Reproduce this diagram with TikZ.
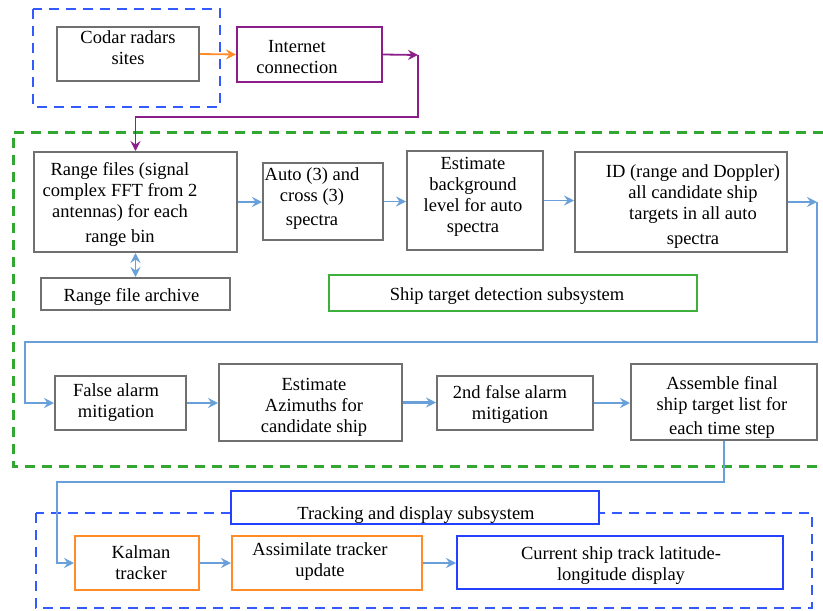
\documentclass[tikz,border=0pt]{standalone}
\usepackage{fontspec}
\setmainfont{Liberation Serif}
\usetikzlibrary{arrows.meta,calc}
\definecolor{boxgray}{RGB}{112,112,112}
\definecolor{cpurple}{RGB}{140,30,140}
\definecolor{corange}{RGB}{255,140,40}
\definecolor{cblue}{RGB}{105,160,218}
\definecolor{cgreen}{RGB}{50,168,50}
\definecolor{cgreenbox}{RGB}{60,175,60}
\definecolor{cdblue}{RGB}{50,90,255}
\definecolor{csblue}{RGB}{35,65,255}
\tikzset{
  bx/.style={fill=white, inner sep=0pt, line width=2pt},
  graybox/.style={bx, draw=boxgray},
  purplebox/.style={bx, draw=cpurple},
  orangebox/.style={bx, draw=corange},
  greenbox/.style={bx, draw=cgreenbox},
  bluebox/.style={bx, draw=csblue},
  txt/.style={align=center, inner sep=0pt, font=\fontsize{18.5}{21}\selectfont},
  tip/.style={-{Stealth[length=10pt,width=10pt,inset=3.5pt]}},
  conn/.style={draw=cblue, line width=1.8pt},
  conn2/.style={draw=cblue, line width=2.6pt},
  gdash/.style={draw=cgreen, line width=3pt, dash pattern=on 10pt off 7pt},
  bdash/.style={draw=cdblue, line width=2.5pt, dash pattern=on 10pt off 7pt},
}
\begin{document}
\begin{tikzpicture}[x=1pt,y=-1pt]
\useasboundingbox[fill=white] (0,0) rectangle (823,611);

% group frames
\draw[bdash] (33,9) rectangle (220,107);
\draw[gdash] (823,132) -- (13,132) -- (13,466) -- (823,466);
\draw[bdash] (36,513) rectangle (812,608);

% coordinates for connector corners
\coordinate (p1) at (418,55);
\coordinate (p2) at (135.5,117);
\coordinate (q1) at (817,202);
\coordinate (q2) at (25,342);
\coordinate (r1) at (724,482);
\coordinate (r2) at (57,482);

% connectors (below boxes)
\draw[cpurple, line width=1.8pt] (p1) -- (p1 |- p2) -- (p2) -- (135.5,150);
\draw[conn] (q1) -- (q1 |- q2) -- (q2) -- (25,403) -- (50,403);
\draw[conn] (724,440) -- (r1) -- (r2) -- (57,563) -- (70,563);

% boxes
\node[graybox, minimum width=142pt, minimum height=54pt] (codar) at (128,54) {};
\node[purplebox, minimum width=145pt, minimum height=55pt] (inet) at (309.5,54.5) {};
\node[graybox, minimum width=203pt, minimum height=100pt] (rf) at (135.5,202) {};
\node[graybox, minimum width=120pt, minimum height=77pt] (auto) at (323,201.5) {};
\node[graybox, minimum width=136pt, minimum height=99pt] (est) at (475,200.5) {};
\node[graybox, minimum width=212pt, minimum height=100pt] (id) at (681,202) {};
\node[graybox, minimum width=189pt, minimum height=32pt] (arch) at (135.5,294) {};
\node[greenbox, minimum width=368pt, minimum height=36pt] (shiptitle) at (513,293) {};
\node[graybox, minimum width=131pt, minimum height=54pt] (fa) at (120.5,403) {};
\node[graybox, minimum width=183pt, minimum height=77pt] (ea) at (310.5,402.5) {};
\node[graybox, minimum width=156pt, minimum height=54pt] (fa2) at (515,403) {};
\node[graybox, minimum width=186pt, minimum height=76pt] (ass) at (724,402) {};
\node[bluebox, minimum width=368pt, minimum height=33pt] (trtitle) at (415,507.5) {};
\node[orangebox, minimum width=124pt, minimum height=54pt] (kal) at (137,563) {};
\node[orangebox, minimum width=190pt, minimum height=54pt] (assim) at (327,563) {};
\node[bluebox, minimum width=326pt, minimum height=53pt] (cur) at (620,562.5) {};

% texts
\node[txt] (codar-t) at (128,48) {Codar radars\\sites};
\node[txt] (inet-t) at (297,57) {Internet\\connection};
\node[txt] (rf-t) at (120,204) {Range files (signal\\complex FFT from 2\\antennas) for each\\[4pt]range bin};
\node[txt] (auto-t) at (312,199) {Auto (3) and\\cross (3)\\[3pt]spectra};
\node[txt] (est-t) at (473,197) {Estimate\\background\\level for auto\\spectra};
\node[txt] (id-t) at (693,207) {ID (range and Doppler)\\all candidate ship\\targets in all auto\\[4pt]spectra};
\node[txt] (arch-t) at (131.5,297) {Range file archive};
\node[txt] (shiptitle-t) at (507,296) {Ship target detection subsystem};
\node[txt] (fa-t) at (116,403) {False alarm\\mitigation};
\node[txt] (ea-t) at (314,407) {Estimate\\Azimuths for\\candidate ship};
\node[txt] (fa2-t) at (510,404) {2nd false alarm\\mitigation};
\node[txt] (ass-t) at (722,407) {Assemble final\\ship target list for\\[3pt]each time step};
\node[txt] (trtitle-t) at (416,515) {Tracking and display subsystem};
\node[txt] (kal-t) at (141,563) {Kalman\\tracker};
\node[txt] (assim-t) at (320,562) {Assimilate tracker\\update};
\node[txt] (cur-t) at (621,566) {Current ship track latitude-\\longitude display};

% arrows
\draw[tip, corange, line width=1.8pt] (codar.east) -- (inet.west);
\draw[tip, cpurple, line width=1.8pt] (inet.east) -- (p1);
\draw[tip, cpurple, line width=1.8pt] (135.5,140) -- (rf.north);
\draw[tip, conn] (rf.east) -- (rf.east -| auto.west);
\draw[tip, conn] (auto.east) -- (auto.east -| est.west);
\draw[tip, conn] (est.east) -- (est.east -| id.west);
\draw[tip, conn] (id.east) -- (q1);
\draw[{Stealth[length=10pt,width=10pt,inset=3.5pt]}-{Stealth[length=10pt,width=10pt,inset=3.5pt]}, conn] (rf.south) -- (arch.north);
\draw[tip, conn] (25,403) -- (fa.west);
\draw[tip, conn2] (fa.east) -- (fa.east -| ea.west);
\draw[tip, conn2] (ea.east) -- (ea.east -| fa2.west);
\draw[tip, conn2] (fa2.east) -- (fa2.east -| ass.west);
\draw[tip, conn] (57,563) -- (kal.west);
\draw[tip, conn2] (kal.east) -- (assim.west);
\draw[tip, conn] (assim.east) -- (assim.east -| cur.west);
\end{tikzpicture}
\end{document}
